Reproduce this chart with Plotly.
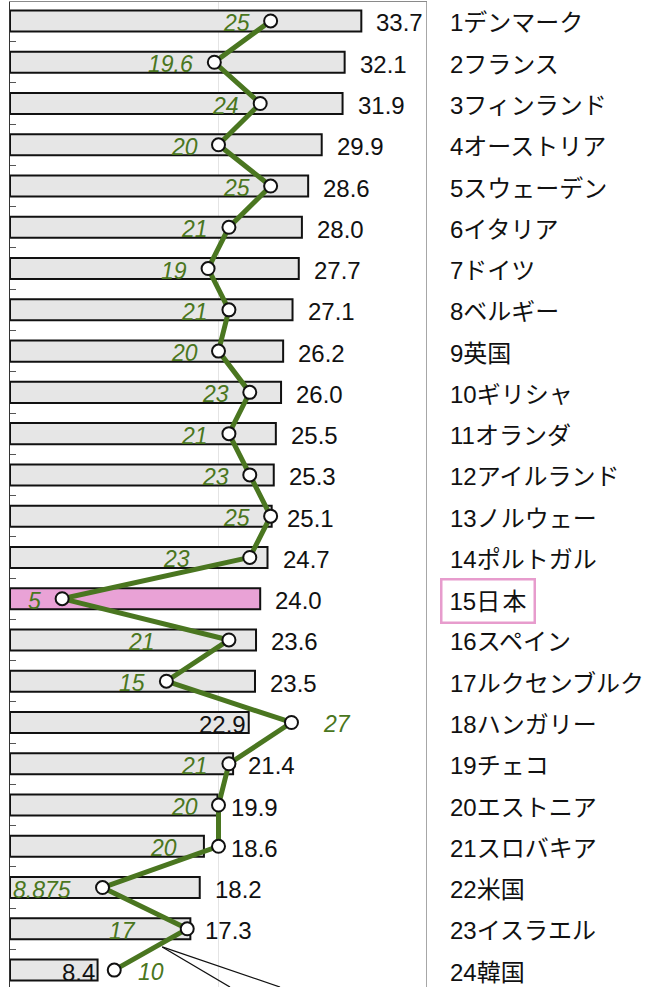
import plotly.graph_objects as go

countries = ["1デンマーク", "2フランス", "3フィンランド", "4オーストリア", "5スウェーデン",
             "6イタリア", "7ドイツ", "8ベルギー", "9英国", "10ギリシャ", "11オランダ",
             "12アイルランド", "13ノルウェー", "14ポルトガル", "15日本", "16スペイン",
             "17ルクセンブルク", "18ハンガリー", "19チェコ", "20エストニア", "21スロバキア",
             "22米国", "23イスラエル", "24韓国"]
bar_values = [33.7, 32.1, 31.9, 29.9, 28.6, 28.0, 27.7, 27.1, 26.2, 26.0, 25.5, 25.3,
              25.1, 24.7, 24.0, 23.6, 23.5, 22.9, 21.4, 19.9, 18.6, 18.2, 17.3, 8.4]
line_values = [25, 19.6, 24, 20, 25, 21, 19, 21, 20, 23, 21, 23,
               25, 23, 5, 21, 15, 27, 21, 20, 20, 8.875, 17, 10]
line_labels = ["25", "19.6", "24", "20", "25", "21", "19", "21", "20", "23", "21", "23",
               "25", "23", "5", "21", "15", "27", "21", "20", "20", "8.875", "17", "10"]
highlight = "15日本"

# label nudges (pixels) to keep italic labels clear of the line
line_label_nudge = {13: -39, 15: -53, 20: -21, 21: -11, 22: -30, 17: 8}

n = len(countries)
rows = list(range(n))

GRAY = "#e6e6e6"
PINK = "#e9a2d6"
GREEN = "#4a7620"
NUM_FONT = "Liberation Sans, Arial, sans-serif"
JP_FONT = "Liberation Sans, Noto Sans CJK JP, sans-serif"

bar_colors = [PINK if c == highlight else GRAY for c in countries]

fig = go.Figure()
fig.add_trace(go.Bar(
    x=bar_values, y=rows, orientation="h", width=0.51,
    marker=dict(color=bar_colors, line=dict(color="#111111", width=2)),
    hoverinfo="skip", showlegend=False,
))
fig.add_trace(go.Scatter(
    x=line_values, y=rows, mode="lines+markers",
    line=dict(color=GREEN, width=5),
    marker=dict(size=13, color="white", line=dict(color="#111111", width=2)),
    hoverinfo="skip", showlegend=False,
))

annotations = []
for i in rows:
    b, v = bar_values[i], line_values[i]
    inside = v > b + 1.5
    # bar value label
    if inside:
        annotations.append(dict(x=b, y=i, xref="x", yref="y", text=f"{b:.1f}",
                                xanchor="right", yanchor="middle", xshift=-1, yshift=-2,
                                showarrow=False, font=dict(family=NUM_FONT, size=24, color="#111111")))
    else:
        annotations.append(dict(x=max(b, v), y=i, xref="x", yref="y", text=f"{b:.1f}",
                                xanchor="left", yanchor="middle",
                                xshift=(10 if v > b else 13), yshift=-2,
                                showarrow=False, font=dict(family=NUM_FONT, size=24, color="#111111")))
    # line value label
    nudge = line_label_nudge.get(i, 0)
    if inside:
        annotations.append(dict(x=v, y=i, xref="x", yref="y", text=f"<i>{line_labels[i]}</i>",
                                xanchor="left", yanchor="middle", xshift=22 + nudge, yshift=-2,
                                showarrow=False, font=dict(family=NUM_FONT, size=23, color=GREEN)))
    else:
        annotations.append(dict(x=v, y=i, xref="x", yref="y", text=f"<i>{line_labels[i]}</i>",
                                xanchor="right", yanchor="middle", xshift=-19 + nudge, yshift=-2,
                                showarrow=False, font=dict(family=NUM_FONT, size=23, color=GREEN)))
    # category label
    if countries[i] == highlight:
        annotations.append(dict(x=1, y=i, xref="paper", yref="y",
                                text=countries[i][:2] + "日<span style='font-size:8px'> </span>本",
                                xanchor="left", yanchor="middle", xshift=13, yshift=-2,
                                showarrow=False, bordercolor="#e79ccd", borderwidth=2.5,
                                borderpad=7, bgcolor="white",
                                font=dict(family=JP_FONT, size=24, color="#111111")))
    else:
        annotations.append(dict(x=1, y=i, xref="paper", yref="y", text=countries[i],
                                xanchor="left", yanchor="middle", xshift=21, yshift=-2,
                                showarrow=False, font=dict(family=JP_FONT, size=24, color="#111111")))

shapes = [
    dict(type="line", xref="x", yref="paper", x0=40, x1=40, y0=0, y1=1,
         line=dict(color="#8a8a8a", width=1.5)),
    dict(type="line", xref="x", yref="y", x0=14.6, y0=22.44, x1=21.1, y1=23.41,
         line=dict(color="#111111", width=1.3)),
    dict(type="line", xref="x", yref="y", x0=14.6, y0=22.44, x1=25.9, y1=23.41,
         line=dict(color="#111111", width=1.3)),
]

fig.update_layout(
    width=654, height=987,
    margin=dict(l=10, r=227, t=2, b=0),
    paper_bgcolor="white", plot_bgcolor="white",
    bargap=0.49,
    annotations=annotations,
    shapes=shapes,
    xaxis=dict(range=[0, 40], showgrid=True, gridcolor="#e4e4e4", gridwidth=1,
               tickvals=[20], showticklabels=False, zeroline=False,
               showline=True, mirror=True, linecolor="#8a8a8a", linewidth=1.5, ticks=""),
    yaxis=dict(range=[23.41, -0.46], showgrid=False, zeroline=False,
               tickvals=[k + 0.5 for k in range(n - 1)], ticks="inside", ticklen=6,
               tickcolor="#555555", tickwidth=1, showticklabels=False,
               showline=True, linecolor="#333333", linewidth=1.5),
)

fig.write_html("out.html", config={"displayModeBar": False, "staticPlot": True},
               post_script="document.body.style.margin='0';document.body.style.overflow='hidden';")
